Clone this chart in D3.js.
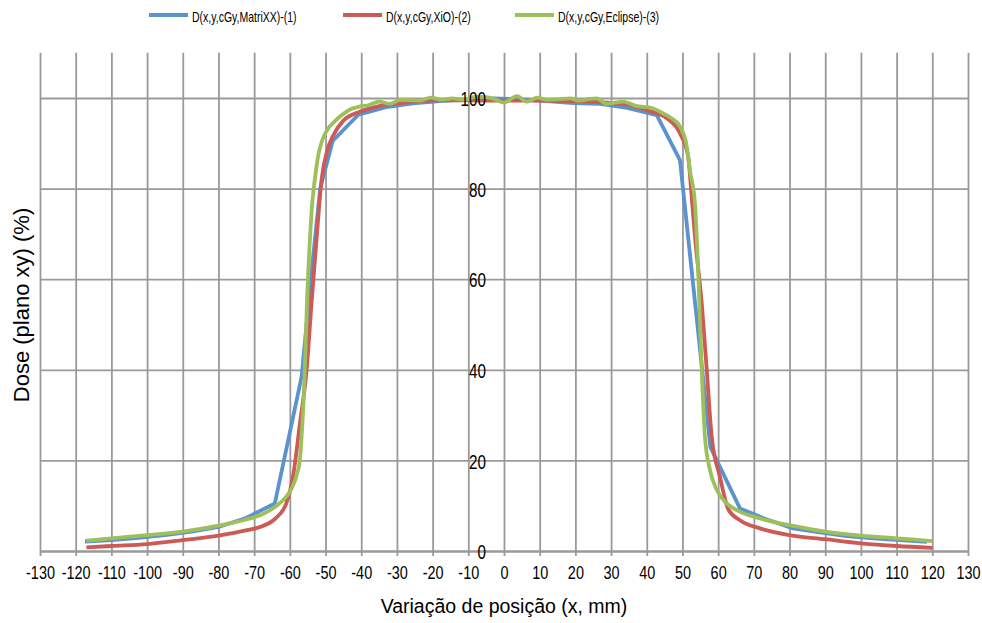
<!DOCTYPE html>
<html>
<head>
<meta charset="utf-8">
<script src="https://cdn.jsdelivr.net/npm/d3@7/dist/d3.min.js"></script>
<style>
  html, body { margin: 0; padding: 0; background: #fff; }
  svg { display: block; }
  svg text { font-family: "Liberation Sans", Arial, sans-serif; fill: #000; }
</style>
</head>
<body>
<svg id="chart" width="982" height="623"></svg>
<script>
// Dose profiles along x (mm) in the xy plane, relative dose (%)
const seriesNames = ["D(x,y,cGy,MatriXX)-(1)", "D(x,y,cGy,XiO)-(2)", "D(x,y,cGy,Eclipse)-(3)"];
const seriesColors = ["#5b93cf", "#cd5a55", "#9dc05a"];

const matrixxX = [-117.4, -110, -102.5, -95, -87.5, -80, -72.5, -64.2, -56.7, -54, -51.5, -48, -40.8, -33, -25.5, -18, -10.5, -3,
  4.5, 12, 19.5, 27, 34.5, 42.8, 49.3, 57.8, 66.1, 73.5, 81, 88.5, 96, 103.5, 111, 118.5];
const matrixxY = [2.1, 2.4, 2.9, 3.5, 4.3, 5.3, 7.2, 10.5, 38.5, 61, 80, 90.5, 96.3, 98, 98.8, 99.3, 99.7, 99.9,
  99.7, 99.3, 98.9, 98.7, 97.8, 96.2, 86.3, 23, 9.4, 7.0, 5.0, 4.1, 3.3, 2.8, 2.4, 2.0];

const xioX = [-117, -110, -100, -90, -80, -72, -68, -64, -61, -59, -57.2, -55.3, -53.9, -52.5, -51.1, -49.5, -48, -45, -40.3,
  -35, -30, -25, -20, -10, 0, 10, 20, 30, 35, 40, 45.6, 49.3, 51.6, 52.5, 53.5, 55.4, 56.8, 58.2, 60.5, 62.9, 66.1, 71.7,
  80, 90, 100, 110, 120];
const xioY = [0.8, 1.1, 1.5, 2.4, 3.4, 4.6, 5.4, 7.2, 10.5, 17, 28, 40, 55, 69, 82, 88.5, 91.5, 95, 97,
  98.2, 98.8, 99.2, 99.5, 99.5, 99.4, 99.4, 99.3, 98.9, 98.5, 97.3, 95.5, 92.2, 87, 79, 69.4, 54.7, 40, 25.2, 16.4, 9.1, 6.8, 5.0,
  3.5, 2.6, 1.7, 1.1, 0.7];

const eclipseX = [-117, -110, -100, -90, -80, -72, -68, -64, -61, -59.5, -58, -57.2, -56.5, -56, -55.6, -55.2, -54.5, -53.7,
  -53, -52, -51, -49.5, -47.5, -45, -43, -40.5, -38, -35, -32, -29, -26, -23.5, -20.5, -17.5, -14.5, -11, -8, -5, -2.5,
  0, 3.6, 6.4, 9.4, 12, 15, 18.5, 21.3, 24, 26, 28.8, 31, 33.4, 37.2, 40.9, 44.6, 47, 49.3, 51.2, 52.1, 53.5, 54.4,
  55.4, 56.3, 57.7, 59.6, 62.4, 66.1, 71.7, 80, 90, 100, 110, 120];
const eclipseY = [2.3, 2.8, 3.5, 4.3, 5.6, 7.0, 8.0, 9.8, 12.0, 13.8, 17, 20, 28, 36, 45, 55, 67, 77,
  82, 87.5, 90.5, 93, 94.8, 96.5, 97.5, 98.1, 98.4, 99.2, 98.7, 99.6, 99.5, 99.4, 100.1, 99.6, 99.9, 99.6, 100.3, 100.2, 99.7,
  99.0, 100.4, 99.2, 100.1, 99.6, 99.7, 99.9, 99.4, 99.8, 99.9, 98.7, 99.0, 99.2, 98.2, 97.9, 96.6, 95.5, 93.7, 89.3, 84, 76.8, 62,
  40, 25.2, 17.9, 13.5, 10.5, 8.7, 7.2, 5.7, 4.3, 3.4, 2.8, 2.2];

const xTicks = [-130, -120, -110, -100, -90, -80, -70, -60, -50, -40, -30, -20, -10, 0, 10, 20, 30, 40, 50, 60, 70, 80, 90, 100, 110, 120, 130];
const yTicks = [0, 20, 40, 60, 80, 100];

const xTitle = "Variação de posição (x, mm)";
const yTitle = "Dose (plano xy) (%)";

const svg = d3.select("#chart");
const plot = { left: 40, right: 968, top: 52.7, bottom: 551 };

const x = d3.scaleLinear().domain([-130, 130]).range([plot.left, plot.right]);
const y = d3.scaleLinear().domain([0, 110]).range([plot.bottom, plot.top]);

const gridColor = "#9a9a9a";
const plainNumber = d => String(d);

// narrow-face look: squeeze glyphs horizontally by a factor
function condense(sel, factor) {
  sel.each(function () {
    const len = this.getComputedTextLength();
    d3.select(this).attr("textLength", len * factor).attr("lengthAdjust", "spacingAndGlyphs");
  });
}

// horizontal gridlines
svg.append("g")
  .attr("transform", `translate(${plot.left},0)`)
  .call(d3.axisLeft(y).tickValues(yTicks).tickSize(-(plot.right - plot.left)).tickFormat(""))
  .call(g => g.select(".domain").remove())
  .call(g => g.selectAll("line").attr("stroke", gridColor).attr("stroke-width", 1.8));

// vertical gridlines
svg.append("g")
  .attr("transform", `translate(0,${plot.bottom})`)
  .call(d3.axisBottom(x).tickValues(xTicks).tickSize(-(plot.bottom - plot.top)).tickFormat(""))
  .call(g => g.select(".domain").remove())
  .call(g => g.selectAll("line").attr("stroke", gridColor).attr("stroke-width", 1.8));

// x axis with outward ticks and labels
svg.append("g")
  .attr("transform", `translate(0,${plot.bottom})`)
  .call(d3.axisBottom(x).tickValues(xTicks).tickSize(5).tickSizeOuter(0).tickPadding(10).tickFormat(plainNumber))
  .call(g => g.attr("font-family", null))
  .call(g => g.select(".domain").attr("stroke", gridColor).attr("stroke-width", 1.8))
  .call(g => g.selectAll("line").attr("stroke", gridColor).attr("stroke-width", 1.8))
  .call(g => g.selectAll("text").attr("font-size", 19).call(condense, 0.76));

// dose profiles
const profiles = [
  { xs: matrixxX, ys: matrixxY, curve: d3.curveLinear },
  { xs: xioX, ys: xioY, curve: d3.curveMonotoneX },
  { xs: eclipseX, ys: eclipseY, curve: d3.curveMonotoneX }
];

profiles.forEach((p, i) => {
  const pts = p.xs.map((v, k) => [v, p.ys[k]]);
  svg.append("path")
    .datum(pts)
    .attr("fill", "none")
    .attr("stroke", seriesColors[i])
    .attr("stroke-width", 3.8)
    .attr("stroke-linejoin", "round")
    .attr("d", d3.line().x(d => x(d[0])).y(d => y(d[1])).curve(p.curve));
});

// y axis labels at x = 0, drawn above the profiles
svg.append("g")
  .attr("transform", `translate(${x(0)},0)`)
  .call(d3.axisLeft(y).tickValues(yTicks).tickSize(0).tickPadding(18).tickFormat(plainNumber))
  .call(g => g.attr("font-family", null))
  .call(g => g.select(".domain").remove())
  .call(g => g.selectAll("text").attr("font-size", 19.5).attr("dy", "0.39em").call(condense, 0.78));

// legend
const legendX = [149, 343, 515];
const legend = svg.append("g");
seriesNames.forEach((name, i) => {
  legend.append("line")
    .attr("x1", legendX[i]).attr("x2", legendX[i] + 39)
    .attr("y1", 15).attr("y2", 15)
    .attr("stroke", seriesColors[i]).attr("stroke-width", 3.8);
  legend.append("text")
    .attr("x", legendX[i] + 43).attr("y", 21.5)
    .attr("font-size", 15)
    .text(name)
    .call(condense, 0.7);
});

// axis titles
svg.append("text")
  .attr("x", x(0)).attr("y", 613)
  .attr("text-anchor", "middle")
  .attr("font-size", 19.5)
  .text(xTitle);

svg.append("text")
  .attr("transform", "translate(29,305) rotate(-90)")
  .attr("text-anchor", "middle")
  .attr("font-size", 22)
  .text(yTitle);
</script>
</body>
</html>
